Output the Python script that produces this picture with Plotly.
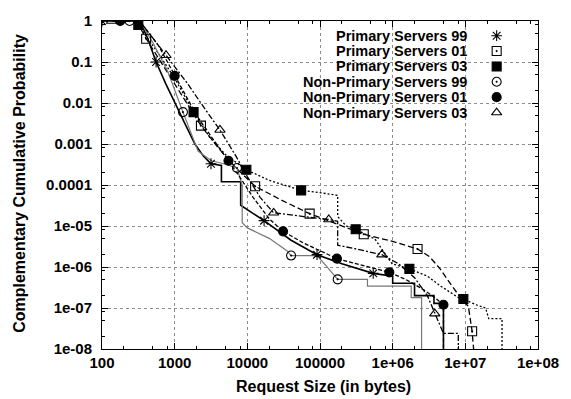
import plotly.graph_objects as go

# ---------------- data ----------------
series_names = ["Primary Servers 99", "Primary Servers 01", "Primary Servers 03",
                "Non-Primary Servers 99", "Non-Primary Servers 01", "Non-Primary Servers 03"]

# Primary Servers 99
p99_x = [100, 330, 420, 555, 750, 1000, 1400, 1900, 2500, 3160, 4400, 4400, 8100, 8100, 17000,
         40000, 91000, 200000, 540000, 1.0e6, 1.0e6, 2.0e6, 2.0e6, 3.7e6, 3.7e6, 5.0e6, 5.0e6]
p99_y = [1, 1, 0.4, 0.1, 0.03, 0.01, 0.003, 0.001, 5e-4, 3.3e-4, 3.0e-4, 1.2e-4, 1.2e-4, 3.2e-5, 1.35e-5,
         4.5e-6, 2.0e-6, 1.2e-6, 7e-7, 6e-7, 4e-7, 4e-7, 2e-7, 2e-7, 1.3e-7, 1.3e-7, 1e-8]
p99_mx = [100, 555, 3160, 17000, 91000, 540000]
p99_my = [1, 0.1, 3.3e-4, 1.35e-5, 2.0e-6, 7e-7]

# Primary Servers 01
p01_x = [300, 405, 700, 1200, 2300, 4000, 7000, 12800, 30000, 72000, 180000, 400000, 1.0e6, 2.2e6,
         3.2e6, 4.5e6, 6.5e6, 9e6, 1.1e7, 1.24e7, 1.3e7]
p01_y = [1, 0.37, 0.08, 0.018, 0.0028, 8e-4, 2.6e-4, 9.3e-5, 4.2e-5, 2.0e-5, 1.1e-5, 6.3e-6, 4.2e-6, 2.75e-6,
         1.8e-6, 9e-7, 3.5e-7, 1.6e-7, 1.1e-7, 2.7e-8, 1e-8]
p01_mx = [405, 2300, 12800, 72000, 400000, 2.2e6, 1.24e7]
p01_my = [0.37, 0.0028, 9.3e-5, 2.0e-5, 6.3e-6, 2.75e-6, 2.7e-8]

# Primary Servers 03
p03_x = [300, 316, 600, 1000, 1820, 3000, 5000, 9700, 20000, 55000, 120000, 175000, 175000, 230000,
         310000, 570000, 980000, 1.7e6, 3.0e6, 4.6e6, 8.0e6, 9.4e6, 1.4e7, 1.9e7, 2.1e7, 3.2e7, 3.2e7]
p03_y = [1, 0.8, 0.16, 0.04, 0.006, 0.0015, 5.5e-4, 2.35e-4, 1.3e-4, 7.4e-5, 6.2e-5, 5.6e-5, 1.7e-5, 1.0e-5,
         8.3e-6, 4.8e-6, 1.2e-6, 9e-7, 6e-7, 3.4e-7, 1.8e-7, 1.66e-7, 1.2e-7, 1.0e-7, 5.5e-8, 5.5e-8, 1e-8]
p03_mx = [316, 1820, 9700, 55000, 310000, 1.7e6, 9.4e6]
p03_my = [0.8, 0.006, 2.35e-4, 7.4e-5, 8.3e-6, 9e-7, 1.66e-7]

# Non-Primary Servers 99
n99_x = [240, 330, 500, 800, 1300, 2100, 3200, 5000, 7200, 8500, 8500, 10000, 20000, 35000, 40000,
         91000, 120000, 160000, 175000, 450000, 450000, 1.8e6, 1.8e6, 2.5e6, 2.5e6]
n99_y = [1, 1, 0.3, 0.06, 0.006, 6.7e-4, 3.9e-4, 3.2e-4, 2.6e-4, 1.0e-4, 1.2e-5, 9e-6, 5e-6, 2.5e-6, 1.9e-6,
         1.9e-6, 1.1e-6, 6e-7, 5e-7, 5e-7, 3.4e-7, 3.4e-7, 1.8e-7, 1.8e-7, 1e-8]
n99_mx = [240, 1300, 7200, 40000, 175000]
n99_my = [1, 0.006, 2.6e-4, 1.9e-6, 5e-7]

# Non-Primary Servers 01
n01_x = [178, 330, 600, 1000, 2000, 3200, 5500, 8000, 12000, 20000, 31000, 60000, 171000, 400000,
         900000, 1.5e6, 2.5e6, 3.5e6, 5.0e6, 5.0e6]
n01_y = [1, 1, 0.25, 0.046, 0.005, 0.0015, 3.9e-4, 1.5e-4, 5e-5, 1.5e-5, 7.4e-6, 3.8e-6, 1.6e-6, 1.1e-6,
         7.4e-7, 5e-7, 3e-7, 2e-7, 1.2e-7, 1e-8]
n01_mx = [178, 1000, 5500, 31000, 171000, 900000, 5.0e6]
n01_my = [1, 0.046, 3.9e-4, 7.4e-6, 1.6e-6, 7.4e-7, 1.2e-7]

# Non-Primary Servers 03
n03_x = [135, 330, 760, 1500, 2500, 4200, 7000, 10000, 15000, 23000, 60000, 132000, 175000, 175000,
         300000, 710000, 1.2e6, 2.0e6, 3.0e6, 3.8e6, 5.0e6, 8.0e6, 8.0e6]
n03_y = [1, 1, 0.146, 0.03, 0.008, 0.0022, 5e-4, 1.6e-4, 5e-5, 2.1e-5, 1.7e-5, 1.44e-5, 1.3e-5, 3.4e-6,
         2.8e-6, 2.0e-6, 1.2e-6, 5.5e-7, 2e-7, 7.3e-8, 2.4e-8, 2.4e-8, 1e-8]
n03_mx = [135, 760, 4200, 23000, 132000, 710000, 3.8e6]
n03_my = [1, 0.146, 0.0022, 2.1e-5, 1.44e-5, 2.0e-6, 7.3e-8]

x_tickvals = [1e2, 1e3, 1e4, 1e5, 1e6, 1e7, 1e8]
x_ticktext = ["100", "1000", "10000", "100000", "1e+06", "1e+07", "1e+08"]
y_tickvals = [1, 1e-1, 1e-2, 1e-3, 1e-4, 1e-5, 1e-6, 1e-7, 1e-8]
y_ticktext = ["1", "0.1", "0.01", "0.001", "0.0001", "1e-05", "1e-06", "1e-07", "1e-08"]

# ---------------- styles ----------------
FONT = "Liberation Sans, Arial, Helvetica, sans-serif"
lines = [(p99_x, p99_y), (p01_x, p01_y), (p03_x, p03_y), (n99_x, n99_y), (n01_x, n01_y), (n03_x, n03_y)]
marks = [(p99_mx, p99_my), (p01_mx, p01_my), (p03_mx, p03_my), (n99_mx, n99_my), (n01_mx, n01_my), (n03_mx, n03_my)]
line_styles = [
    dict(color="black", width=1.6, dash="solid"),
    dict(color="black", width=1.3, dash="6px,3px"),
    dict(color="black", width=1.3, dash="2px,2px"),
    dict(color="#777777", width=1.2, dash="solid"),
    dict(color="black", width=1.3, dash="4px,2px"),
    dict(color="black", width=1.3, dash="6px,2px,2px,2px"),
]
symbols = ["asterisk-open", "square-open-dot", "square", "circle-open-dot", "circle", "triangle-up-open"]

fig = go.Figure()
for (lx, ly), ls in zip(lines, line_styles):
    fig.add_trace(go.Scatter(x=lx, y=ly, mode="lines", line=ls, showlegend=False, hoverinfo="skip"))
for (mx, my), sym in zip(marks, symbols):
    fig.add_trace(go.Scatter(x=mx, y=my, mode="markers",
                             marker=dict(symbol=sym, size=9, color="black",
                                         line=dict(color="black", width=1.1)),
                             showlegend=False, hoverinfo="skip"))

# ---------------- custom key (gnuplot style: text then symbol) ----------------
W, H = 571, 399
L, R, T, B = 102, 26, 14, 50
pw, ph = W - L - R, H - T - B
def px2x(px): return (px - L) / pw
def py2y(py): return (H - B - py) / ph

key_rows = [29 + i * 15.7 for i in range(len(series_names))]
fig.add_shape(type="rect", xref="paper", yref="paper",
              x0=px2x(265), x1=px2x(537), y0=py2y(116), y1=py2y(17),
              fillcolor="white", line=dict(width=0), layer="between")
for name, ry in zip(series_names, key_rows):
    fig.add_annotation(text=name, xref="paper", yref="paper", x=px2x(474), y=py2y(ry),
                       xanchor="right", yanchor="middle", showarrow=False, borderpad=0,
                       font=dict(family=FONT, size=14.5, color="black", weight="bold"))
fig.add_trace(go.Scatter(x=[px2x(503)] * len(series_names), y=[py2y(r) for r in key_rows],
                         xaxis="x2", yaxis="y2", mode="markers",
                         marker=dict(symbol=symbols, size=9, color="black",
                                     line=dict(color="black", width=1.1)),
                         showlegend=False, hoverinfo="skip"))

minor_decades = [10.0 ** k for k in range(-8, 9)]
minor_vals = [d * m for d in minor_decades for m in (2, 5, 8)]

axis_common = dict(type="log", showline=True, linecolor="black", linewidth=1, mirror="allticks",
                   ticks="inside", ticklen=6, tickcolor="black", tickwidth=1,
                   showgrid=True, gridcolor="#8c8c8c", griddash="dot", gridwidth=1,
                   zeroline=False, tickfont=dict(family=FONT, size=15, color="black", weight="bold"),
                   minor=dict(ticks="inside", ticklen=3, tickcolor="black", tickmode="array",
                              tickvals=minor_vals, showgrid=False))

fig.update_layout(
    width=W, height=H, margin=dict(l=L, r=R, t=T, b=B, pad=0),
    paper_bgcolor="white", plot_bgcolor="white", showlegend=False,
    xaxis=dict(range=[2, 8], tickmode="array", tickvals=x_tickvals, ticktext=x_ticktext, **axis_common),
    yaxis=dict(range=[-8, 0], tickmode="array", tickvals=y_tickvals, ticktext=y_ticktext,
               ticklabelstandoff=6, **axis_common),
    xaxis2=dict(overlaying="x", range=[0, 1], visible=False),
    yaxis2=dict(overlaying="y", range=[0, 1], visible=False),
)

fig.add_annotation(text="Request Size (in bytes)", xref="paper", yref="paper",
                   x=px2x(327), y=py2y(387), xanchor="center", yanchor="middle", showarrow=False,
                   font=dict(family=FONT, size=16, color="black", weight="bold"))
fig.add_annotation(text="Complementary Cumulative Probability", xref="paper", yref="paper",
                   x=px2x(18), y=py2y(180), xanchor="center", yanchor="middle", textangle=-90, showarrow=False,
                   font=dict(family=FONT, size=16, color="black", weight="bold"))

fig.write_html("out.html")
